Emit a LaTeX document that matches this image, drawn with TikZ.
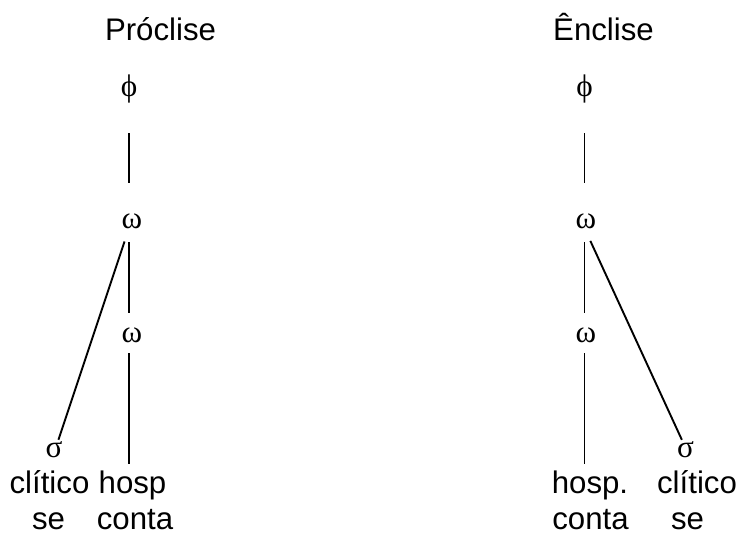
\documentclass[tikz,border=0pt]{standalone}
\usepackage{fontspec}
\setmainfont{Liberation Sans}
\newfontfamily\greekfont{Liberation Serif}
\usepackage{tikz}
\tikzset{
  title/.style={anchor=base,inner sep=0pt},
  unit/.style={anchor=base,inner sep=0pt,text height=0.5em,text depth=0pt,font=\greekfont},
  word/.style={anchor=base,inner sep=0pt},
  branch/.style={line width=1.9pt}
}
\begin{document}
\fontsize{31.2pt}{37pt}\selectfont
\begin{tikzpicture}[x=1pt,y=-1pt]
      \useasboundingbox (0,0) rectangle (741,533);
      % proclise
      \node[title] (titleP) at (160.5,40) {Próclise};
      \node[unit] (phiP) at (129,96) {ϕ};
      \node[unit] (omP) at (132,228) {ω};
      \node[unit] (omPb) at (132,342) {ω};
      \node[unit] (sigP) at (54,457) {σ};
      \node[word] (cliP) at (49.5,493) {clítico};
      \node[word] (hospP) at (132.5,493) {hosp};
      \node[word] (seP) at (48.5,529.5) {se};
      \node[word] (contaP) at (135,529.5) {conta};

      \draw[branch,shorten <=37pt,shorten >=29pt] (phiP.south) -- (phiP.south |- omP.north);
      \draw[branch,shorten <=14pt,shorten >=1.5pt] (omP.south -| phiP.south) -- ([xshift=4pt]sigP.north);
      \draw[branch,shorten <=14pt,shorten >=13.4pt] (omP.south -| phiP.south) -- (omPb.north -| phiP.south);
      \draw[branch,shorten <=11pt,shorten >=6.4pt] (omPb.south -| phiP.south) -- (hospP.north -| phiP.south);

      % enclise
      \node[title] (titleE) at (603.5,40) {Ênclise};
      \node[unit] (phiE) at (584.5,96) {ϕ};
      \node[unit] (omE) at (586,228) {ω};
      \node[unit] (omEb) at (586,342) {ω};
      \node[unit] (sigE) at (685.5,457) {σ};
      \node[word] (hospE) at (590,493) {hosp.};
      \node[word] (cliE) at (697,493) {clítico};
      \node[word] (contaE) at (590.5,529.5) {conta};
      \node[word] (seE) at (687.5,529.5) {se};

      \draw[branch,shorten <=37pt,shorten >=29pt] (phiE.south) -- (phiE.south |- omE.north);
      \draw[branch,shorten <=14pt,shorten >=1.5pt] (omE.south -| phiE.south) -- ([xshift=-3pt]sigE.north);
      \draw[branch,shorten <=14pt,shorten >=13.4pt] (omE.south -| phiE.south) -- (omEb.north -| phiE.south);
      \draw[branch,shorten <=11pt,shorten >=6.4pt] (omEb.south -| phiE.south) -- (hospE.north -| phiE.south);
    \end{tikzpicture}
\end{document}
